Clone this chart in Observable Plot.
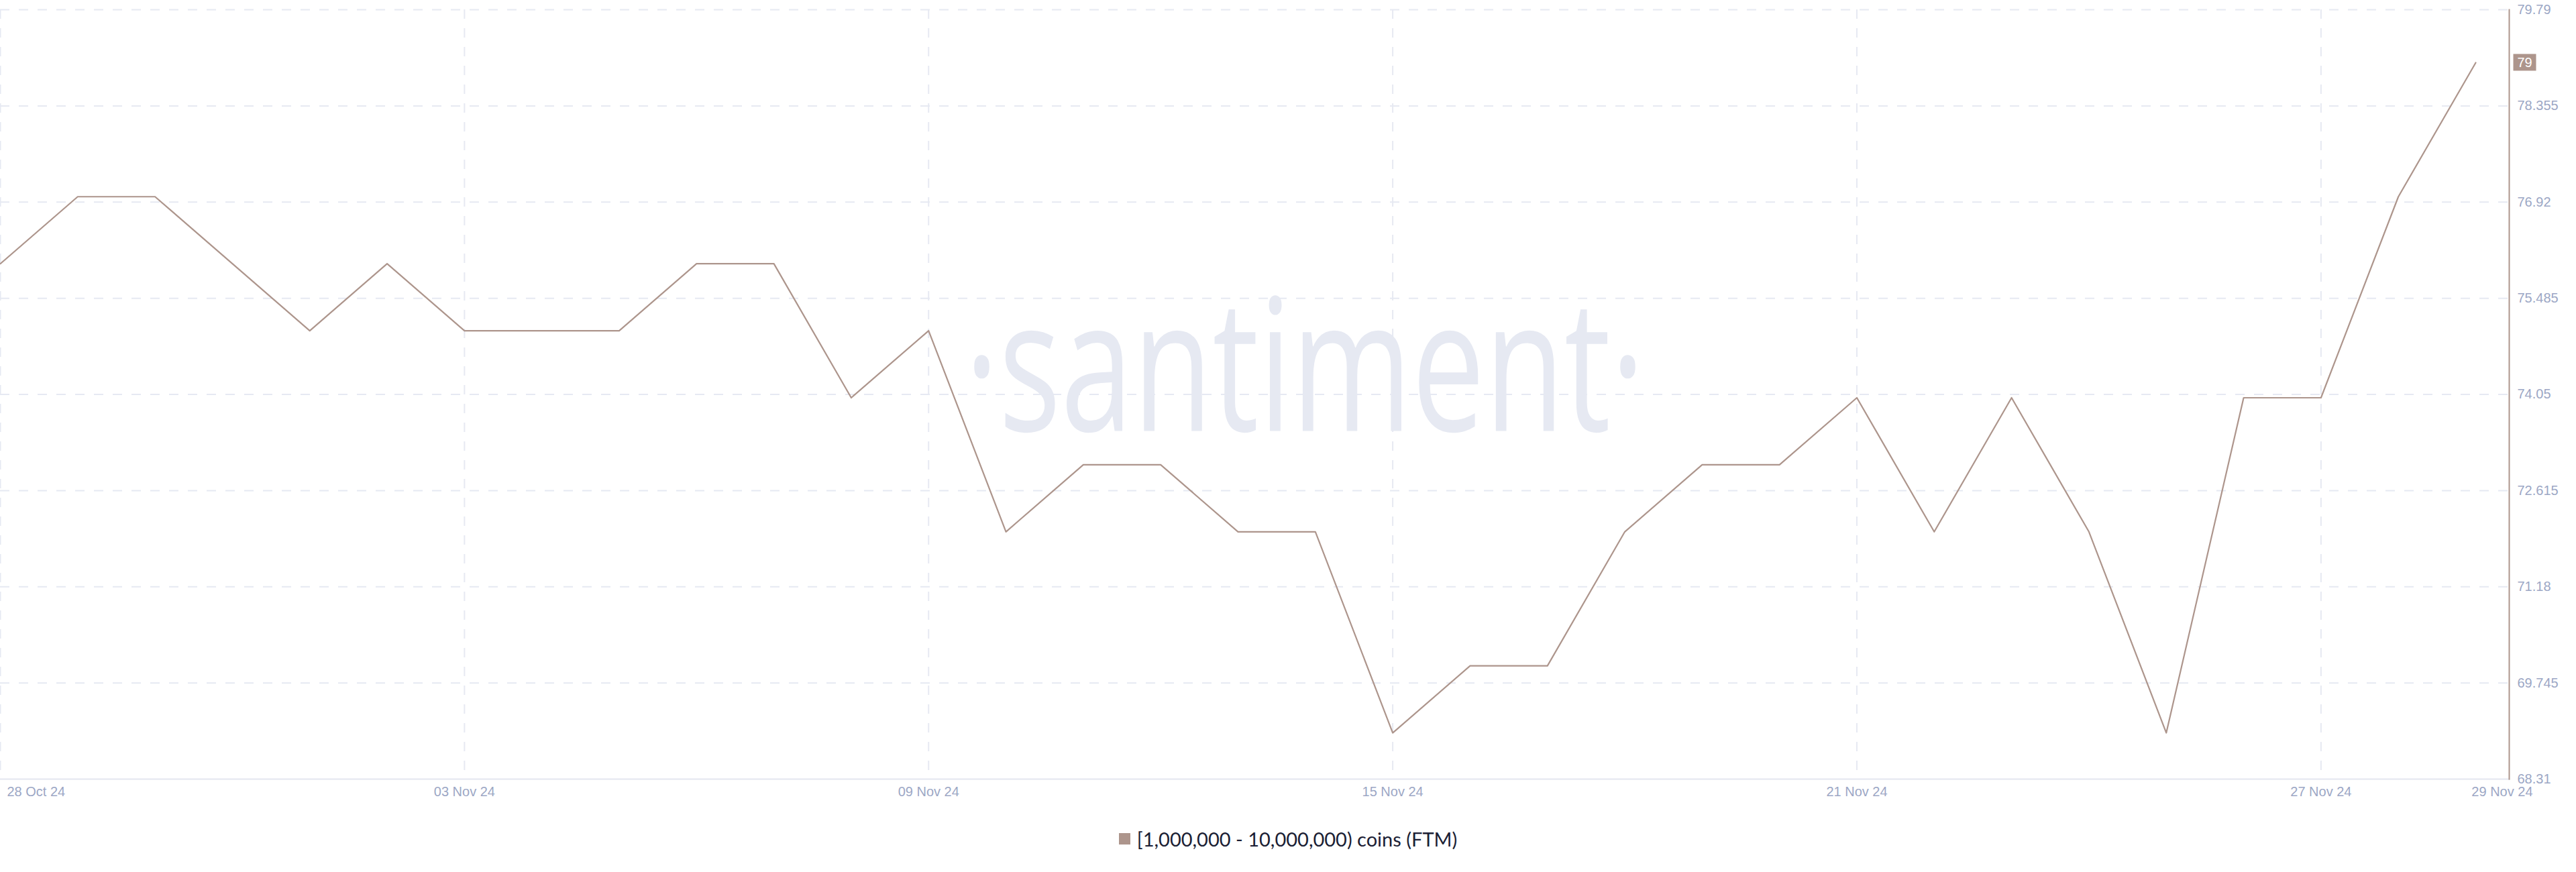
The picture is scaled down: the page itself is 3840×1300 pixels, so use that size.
<!DOCTYPE html>
<html>
<head>
<meta charset="utf-8">
<script src="https://cdn.jsdelivr.net/npm/d3@7"></script>
<script src="https://cdn.jsdelivr.net/npm/@observablehq/plot@0.6"></script>
<style>
  html, body { margin: 0; padding: 0; background: #ffffff; }
  #chart svg { display: block; }
  #legend { height: 100px; display: flex; align-items: center; justify-content: center;
            font-family: Lato, "Noto Sans", sans-serif; font-size: 29px; color: #1b1e34; }
  #legend .sw { width: 17px; height: 17px; background: #ad958c; margin-right: 10px; }
</style>
</head>
<body>
<div id="chart"></div>
<div id="legend"><span class="sw"></span><span id="legend-label"></span></div>
<script>
const dates = [
  "2024-10-28","2024-10-29","2024-10-30","2024-10-31","2024-11-01","2024-11-02","2024-11-03",
  "2024-11-04","2024-11-05","2024-11-06","2024-11-07","2024-11-08","2024-11-09","2024-11-10",
  "2024-11-11","2024-11-12","2024-11-13","2024-11-14","2024-11-15","2024-11-16","2024-11-17",
  "2024-11-18","2024-11-19","2024-11-20","2024-11-21","2024-11-22","2024-11-23","2024-11-24",
  "2024-11-25","2024-11-26","2024-11-27","2024-11-28","2024-11-29"
];
const values = [
  76, 77, 77, 76, 75, 76, 75,
  75, 75, 76, 76, 74, 75, 72,
  73, 73, 72, 72, 69, 70, 70,
  72, 73, 73, 74, 72, 74, 72,
  69, 74, 74, 77, 79
];
const yTicks = [68.31, 69.745, 71.18, 72.615, 74.05, 75.485, 76.92, 78.355, 79.79];
const xGridDates = ["2024-10-28","2024-11-03","2024-11-09","2024-11-15","2024-11-21","2024-11-27"];
const xLabelFirst = ["2024-10-28"];
const xLabelMiddle = ["2024-11-03","2024-11-09","2024-11-15","2024-11-21","2024-11-27"];
const xLabelLast = ["2024-11-29"];
const seriesName = "[1,000,000 - 10,000,000) coins (FTM)";
const watermark = "·santiment·";

const lineColor = "#ad958c";
const gridColor = "#e6e9f2";
const tickColor = "#9ca7c5";

const parse = d3.utcParse("%Y-%m-%d");
const data = dates.map((d, i) => ({date: parse(d), value: values[i]}));
const fmt = d3.utcFormat("%d %b %y");
const last = data[data.length - 1];

const W = 3840, H = 1200;
const wmDx = 75, wmDy = -33, wmScale = 0.704;
const badgeDx = 23;

const chart = Plot.plot({
  width: W,
  height: H,
  marginLeft: 0,
  marginRight: 100,
  marginTop: 14,
  marginBottom: 39,
  style: {fontFamily: "'Liberation Sans', Arial, sans-serif", background: "#ffffff"},
  x: {type: "utc", domain: [data[0].date, last.date], range: [0, 3690]},
  y: {domain: [yTicks[0], yTicks[yTicks.length - 1]]},
  marks: [
    Plot.ruleY(yTicks.slice(1), {stroke: gridColor, strokeWidth: 2, strokeDasharray: "14,14"}),
    Plot.ruleX(xGridDates.map(parse), {stroke: gridColor, strokeWidth: 2, strokeDasharray: "14,14"}),
    Plot.text([watermark], {
      frameAnchor: "middle", text: d => d,
      fontSize: 275, fontWeight: 400, fill: "#e6e9f2",
      fontFamily: "'Open Sans', sans-serif",
      render(index, scales, values, dims, ctx, next) {
        const g = next(index, scales, values, dims, ctx);
        const cx = dims.marginLeft + (dims.width - dims.marginLeft - dims.marginRight) / 2;
        g.setAttribute("transform",
          `translate(${wmDx},${wmDy}) translate(${cx},0) scale(${wmScale},1) translate(${-cx},0)`);
        return g;
      }
    }),
    Plot.frame({anchor: "bottom", stroke: "#e3e6ef", strokeWidth: 2}),
    Plot.frame({anchor: "right", stroke: lineColor, strokeWidth: 2}),
    Plot.line(data, {x: "date", y: "value", stroke: lineColor, strokeWidth: 2.2}),
    Plot.axisY(yTicks, {anchor: "right", tickSize: 0, tickPadding: 12, fontSize: 20,
      fill: tickColor, tickFormat: d => String(d), label: null}),
    Plot.axisX(xLabelFirst.map(parse), {anchor: "bottom", tickSize: 0, tickPadding: 11, fontSize: 20,
      fill: tickColor, tickFormat: fmt, textAnchor: "start", dx: 10, label: null}),
    Plot.axisX(xLabelMiddle.map(parse), {anchor: "bottom", tickSize: 0, tickPadding: 11, fontSize: 20,
      fill: tickColor, tickFormat: fmt, label: null}),
    Plot.axisX(xLabelLast.map(parse), {anchor: "bottom", tickSize: 0, tickPadding: 11, fontSize: 20,
      fill: tickColor, tickFormat: fmt, textAnchor: "end", dx: 85, label: null}),
    Plot.text([last], {
      y: "value", text: d => String(d.value), frameAnchor: "right", dx: badgeDx,
      textAnchor: "middle", fill: "#ffffff", fontSize: 20,
      render(index, scales, vals, dims, ctx, next) {
        const g = next(index, scales, vals, dims, ctx);
        const x0 = dims.width - dims.marginRight;
        const ns = "http://www.w3.org/2000/svg";
        index.forEach(i => {
          const yy = scales.y(last.value);
          const r = document.createElementNS(ns, "rect");
          r.setAttribute("x", x0 + 6 - badgeDx);
          r.setAttribute("y", yy - 13);
          r.setAttribute("width", 34);
          r.setAttribute("height", 25);
          r.setAttribute("fill", lineColor);
          g.insertBefore(r, g.firstChild);
        });
        return g;
      }
    })
  ]
});
document.getElementById("chart").appendChild(chart);
document.getElementById("legend-label").textContent = seriesName;
</script>
</body>
</html>
